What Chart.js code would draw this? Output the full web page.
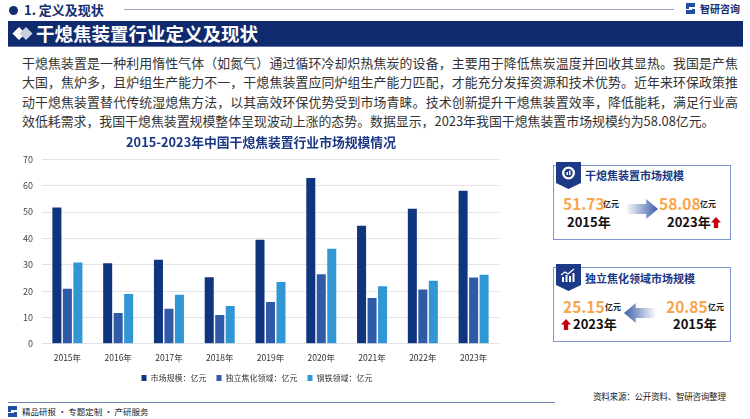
<!DOCTYPE html>
<html>
<head>
<meta charset="utf-8">
<script src="https://cdn.jsdelivr.net/npm/chart.js@4"></script>
<style>
  * { margin: 0; padding: 0; box-sizing: border-box; }
  body { width: 750px; height: 419px; background: #fff; position: relative; overflow: hidden;
         font-family: "Noto Sans CJK SC", "Noto Sans", sans-serif; color: #222; }
  .abs { position: absolute; white-space: nowrap; }
  .sec-dot { left: 9px; top: 6px; width: 9px; height: 9px; border-radius: 50%; background: #152e70; }
  .sec-title { left: 24px; top: 1px; font-size: 13px; font-weight: 700; color: #152e70; line-height: 18px; }
  .sec-line { left: 124px; top: 9px; width: 550px; height: 1px; background: #9aa6c4; }
  .logo { left: 686px; top: 2px; font-size: 10px; font-weight: 700; color: #152e70; line-height: 14px; }
  .banner { left: 8px; top: 21px; width: 735px; height: 25px; background: #0f2b6d;
            box-shadow: 0 1px 0 #5d72a6; }
  .banner-text { left: 36px; top: 21px; font-size: 18.5px; font-weight: 700; color: #fff; line-height: 25px; }
  .para { position: absolute; left: 22px; top: 53px; width: 716px; font-size: 12.9px; line-height: 19.3px; color: #333; }
  .para div { text-align: justify; text-align-last: justify; white-space: nowrap; }
  .para div.last { text-align-last: left; }
  .box { position: absolute; left: 553px; width: 178px; height: 75px; border: 1px solid #7b96cc; }
  .tab { position: absolute; left: 556px; }
  .box-title { font-size: 11px; font-weight: 700; color: #1b3783; line-height: 14px; }
  .num { font-size: 15.5px; font-weight: 700; color: #f7a64c; line-height: 20px; }
  .unit { font-size: 8px; font-weight: 700; color: #222; line-height: 10px; }
  .yr { font-size: 13px; font-weight: 700; color: #111; line-height: 16px; }
  .arrow-r { width: 31px; height: 20px;
             background: linear-gradient(to right, rgba(70,100,170,0.05), #3d5ea8);
             clip-path: polygon(0 25%, 62% 25%, 62% 0, 100% 50%, 62% 100%, 62% 75%, 0 75%); }
  .arrow-l { width: 31px; height: 20px;
             background: linear-gradient(to left, rgba(70,100,170,0.05), #3d5ea8);
             clip-path: polygon(100% 25%, 38% 25%, 38% 0, 0 50%, 38% 100%, 38% 75%, 100% 75%); }
  .up { width: 10px; height: 11px; background: #c4000b;
        clip-path: polygon(50% 0, 100% 50%, 72% 50%, 72% 100%, 28% 100%, 28% 50%, 0 50%); }
  .foot-line { left: 8px; top: 402px; width: 547px; height: 1px; background: #6c7fb0; }
  .source { left: 593px; top: 390px; font-size: 8.6px; letter-spacing: -0.3px; color: #222; line-height: 13px; }
  .foot { left: 22px; top: 405px; font-size: 8.5px; color: #222; line-height: 13px; }
  #chartWrap { position: absolute; left: 23px; top: 128px; width: 504px; height: 264px; }
</style>
</head>
<body>
<div class="abs sec-dot"></div>
<div class="abs sec-title">1. 定义及现状</div>
<div class="abs sec-line"></div>
<svg class="abs" style="left:686px;top:3px" width="10" height="11" viewBox="0 0 10 11">
  <path d="M0 0h9v4H3v2h6v5H0V7h6V6H0z" fill="#1f4fa3"/>
</svg>
<div class="abs logo" style="left:700px">智研咨询</div>

<div class="abs banner"></div>
<svg class="abs" style="left:12px;top:26px" width="22" height="15" viewBox="0 0 22 15">
  <path d="M7 1l6.5 6.5L7 14 0.5 7.5z" fill="#fff"/>
  <path d="M14 1l6.5 6.5L14 14 7.5 7.5z" fill="#c9cfdd"/>
</svg>
<div class="abs banner-text">干熄焦装置行业定义及现状</div>

<div class="para">
  <div>干熄焦装置是一种利用惰性气体（如氮气）通过循环冷却炽热焦炭的设备，主要用于降低焦炭温度并回收其显热。我国是产焦</div>
  <div>大国，焦炉多，且炉组生产能力不一，干熄焦装置应同炉组生产能力匹配，才能充分发挥资源和技术优势。近年来环保政策推</div>
  <div>动干熄焦装置替代传统湿熄焦方法，以其高效环保优势受到市场青睐。技术创新提升干熄焦装置效率，降低能耗，满足行业高</div>
  <div class="last">效低耗需求，我国干熄焦装置规模整体呈现波动上涨的态势。数据显示，2023年我国干熄焦装置市场规模约为58.08亿元。</div>
</div>

<div id="chartWrap"><canvas id="chart"></canvas></div>

<!-- box 1 -->
<div class="box" style="top:165px"></div>
<svg class="abs tab" style="top:162px" width="25" height="27" viewBox="0 0 25 27">
  <path d="M0 0h25v21l-12.5 6L0 21z" fill="#1d3a86"/>
  <circle cx="12.5" cy="11" r="6.5" fill="#fff"/>
  <circle cx="12.5" cy="11" r="4.2" fill="#1d3a86"/>
  <rect x="10.5" y="10" width="1.5" height="3" fill="#fff"/>
  <rect x="13" y="8.5" width="1.5" height="4.5" fill="#fff"/>
</svg>
<div class="abs box-title" style="left:585px;top:168px">干熄焦装置市场规模</div>
<div class="abs num" style="left:563px;top:193px">51.73</div>
<div class="abs unit" style="left:603px;top:199px">亿元</div>
<div class="abs yr" style="left:567px;top:214px">2015年</div>
<div class="abs arrow-r" style="left:627px;top:199px"></div>
<div class="abs num" style="left:659px;top:193px">58.08</div>
<div class="abs unit" style="left:700px;top:199px">亿元</div>
<div class="abs yr" style="left:667px;top:214px">2023年</div>
<div class="abs up" style="left:711px;top:217px"></div>

<!-- box 2 -->
<div class="box" style="top:267px"></div>
<svg class="abs tab" style="top:264px" width="25" height="27" viewBox="0 0 25 27">
  <path d="M0 0h25v21l-12.5 6L0 21z" fill="#1d3a86"/>
  <rect x="6" y="13" width="2" height="5" fill="#fff"/>
  <rect x="9.5" y="11" width="2" height="7" fill="#fff"/>
  <rect x="13" y="12" width="2" height="6" fill="#fff"/>
  <rect x="16.5" y="9" width="2" height="9" fill="#fff"/>
  <path d="M5 11l4-3 3 2 6-5" stroke="#fff" stroke-width="1.3" fill="none"/>
</svg>
<div class="abs box-title" style="left:585px;top:271px">独立焦化领域市场规模</div>
<div class="abs num" style="left:563px;top:296px">25.15</div>
<div class="abs unit" style="left:605px;top:302px">亿元</div>
<div class="abs up" style="left:561px;top:319px"></div>
<div class="abs yr" style="left:573px;top:316px">2023年</div>
<div class="abs arrow-l" style="left:624px;top:303px"></div>
<div class="abs num" style="left:666px;top:296px">20.85</div>
<div class="abs unit" style="left:708px;top:302px">亿元</div>
<div class="abs yr" style="left:673px;top:316px">2015年</div>

<div class="abs foot-line"></div>
<div class="abs source">资料来源：公开资料、智研咨询整理</div>
<svg class="abs" style="left:8px;top:406px" width="10" height="11" viewBox="0 0 10 11">
  <path d="M0 0h9v4H3v2h6v5H0V7h6V6H0z" fill="#1f4fa3"/>
</svg>
<div class="abs foot">精品研报 · 专题定制 · 产研服务</div>

<script>
// 数据
const years = ['2015年', '2016年', '2017年', '2018年', '2019年', '2020年', '2021年', '2022年', '2023年'];
const marketSize = [51.73, 30.6, 31.9, 25.3, 39.5, 62.9, 44.8, 51.3, 58.08];
const independentCoking = [20.85, 11.7, 13.3, 10.9, 15.9, 26.4, 17.4, 20.6, 25.15];
const steelSector = [30.9, 18.9, 18.6, 14.3, 23.5, 36.1, 21.8, 23.9, 26.2];
const yTicks = [0, 10, 20, 30, 40, 50, 60, 70];

const FONT = '"Noto Sans CJK SC", "Noto Sans", sans-serif';
const ctx = document.getElementById('chart').getContext('2d');

new Chart(ctx, {
  type: 'bar',
  data: {
    labels: years,
    datasets: [
      { label: '市场规模：亿元', data: marketSize, backgroundColor: '#10357f' },
      { label: '独立焦化领域：亿元', data: independentCoking, backgroundColor: '#2f5aa7' },
      { label: '钢铁领域：亿元', data: steelSector, backgroundColor: '#3197d4' }
    ]
  },
  options: {
    responsive: true,
    maintainAspectRatio: false,
    animation: false,
    datasets: { bar: { categoryPercentage: 0.62, barPercentage: 0.86 } },
    layout: { padding: { left: 0, right: 28, top: 4, bottom: 0 } },
    plugins: {
      title: {
        display: true,
        text: '2015-2023年中国干熄焦装置行业市场规模情况',
        color: '#1b3783',
        font: { family: FONT, size: 12.8, weight: 'bold' },
        padding: { top: 2, bottom: 10 }
      },
      legend: {
        position: 'bottom',
        labels: {
          color: '#333',
          font: { family: FONT, size: 8 },
          boxWidth: 5,
          boxHeight: 6,
          padding: 2,
          // 图例项之间留宽一点，上下间距保持紧凑
          generateLabels: chart => Chart.defaults.plugins.legend.labels.generateLabels(chart)
            .map(item => ({ ...item, text: item.text + '\u2003' }))
        }
      },
      tooltip: { enabled: false }
    },
    scales: {
      x: {
        grid: { display: false, drawTicks: false },
        border: { display: false },
        ticks: { color: '#333', font: { family: FONT, size: 8.5 }, padding: 9 }
      },
      y: {
        min: 0,
        max: 70,
        afterBuildTicks: axis => { axis.ticks = yTicks.map(v => ({ value: v })); },
        afterFit: axis => { axis.width = 19; },
        grid: { color: '#e3e3e3', drawTicks: false },
        border: { display: false },
        ticks: { color: '#444', font: { family: FONT, size: 9 }, padding: 9 }
      }
    }
  }
});
</script>
</body>
</html>
